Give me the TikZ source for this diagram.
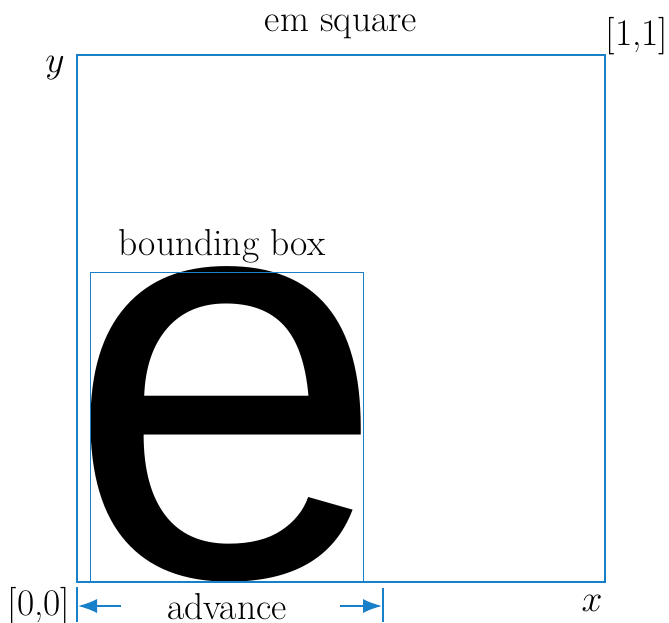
\RequirePackage{fix-cm}
\documentclass[tikz,border=0pt]{standalone}
\usepackage{fontspec}
\newfontfamily\glyphfont{Liberation Sans}
\usetikzlibrary{arrows.meta}
\definecolor{emblue}{RGB}{24,128,200}
\tikzset{
  lbl/.style={font=\fontsize{37.5}{44}\selectfont, inner sep=0pt},
  emframe/.style={draw=emblue, line width=1.6pt},
  bbframe/.style={draw=emblue, line width=0.9pt},
  advbar/.style={draw=emblue, line width=1.6pt},
  advarrow/.style={draw=emblue, line width=1.8pt, -{Latex[length=19pt,width=14pt]}}
}
\begin{document}
\begin{tikzpicture}[x=1pt,y=1pt]
\useasboundingbox (0,0) rectangle (669,622);
% glyph
\node[inner sep=0pt, anchor=south west, font=\glyphfont\fontsize{576}{576}\selectfont] (glyph) at (66,40) {e};
% em square
\draw[emframe] (77,40) rectangle (605,567);
% bounding box
\draw[bbframe] (90,40) rectangle (363,350);
% labels
\node[lbl] (emlabel) at (341,595) {em square};
\node[lbl] (one) at (637,586) {[1,1]};
\node[lbl] (ylab) at (55,554) {$y$};
\node[lbl] (xlab) at (592,19) {$x$};
\node[lbl] (zero) at (39,16) {[0,0]};
\node[lbl] (bblabel) at (222,376) {bounding box};
\node[lbl] (adv) at (227,15) {advance};
% advance marker
\coordinate (lb1) at (77,35);
\coordinate (lb2) at (77,0);
\coordinate (rb1) at (383,34);
\coordinate (rb2) at (383,0);
\draw[advbar] (lb1) -- (lb2);
\draw[advbar] (rb1) -- (rb2);
\coordinate (la1) at (121,16);
\coordinate (la2) at (78,16);
\coordinate (ra1) at (340,16);
\coordinate (ra2) at (382,16);
\draw[advarrow] (la1) -- (la2);
\draw[advarrow] (ra1) -- (ra2);
\end{tikzpicture}
\end{document}
